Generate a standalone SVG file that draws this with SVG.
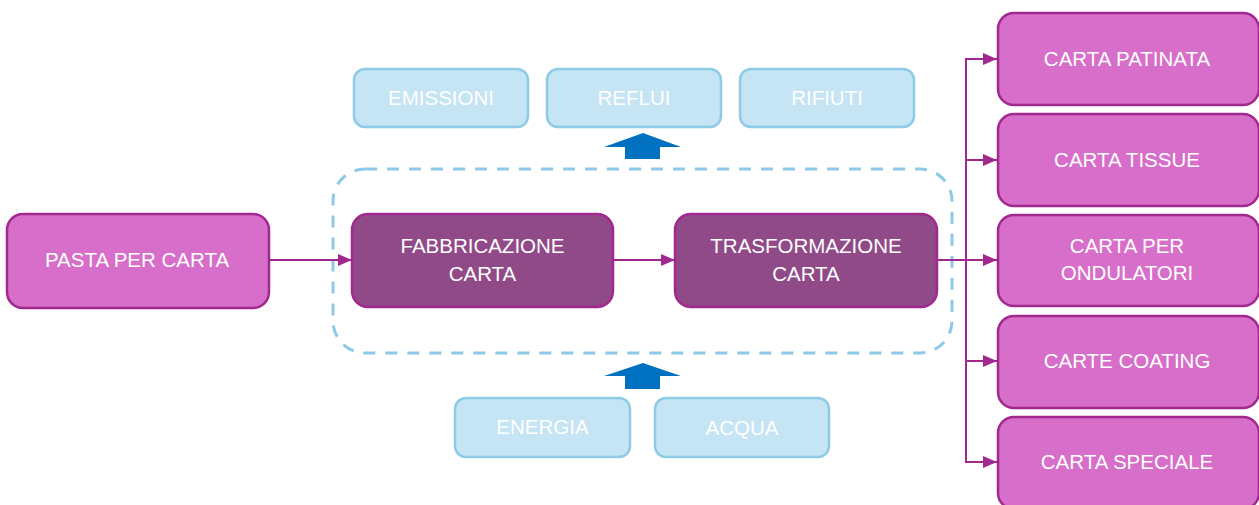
<svg xmlns="http://www.w3.org/2000/svg" width="1259" height="505" viewBox="0 0 1259 505">
<defs>
<style>
.mag{fill:#d76ec9;stroke:#a0288f;stroke-width:2.5}
.dark{fill:#914a88;stroke:#a0288f;stroke-width:2.5}
.lb{fill:#c5e4f4;stroke:#8dcbe6;stroke-width:2.5}
.t{font-family:"Liberation Sans",Arial,sans-serif;font-size:20.5px;fill:#ffffff;text-anchor:middle}
.conn{fill:none;stroke:#a0288f;stroke-width:2}
.dash{fill:none;stroke:#8ecae6;stroke-width:3;stroke-dasharray:12 10}
.blue{fill:#0070c0}
</style>
<marker id="ah2" viewBox="0 0 14 12" refX="14" refY="6" markerWidth="14" markerHeight="12" markerUnits="userSpaceOnUse" orient="auto">
<path d="M0,0 L14,6 L0,12 Z" fill="#a0288f"/>
</marker>
</defs>

<g id="boundary">
<rect class="dash" x="333" y="169" width="619" height="184" rx="32" ry="32"/>
</g>

<g id="connectors">
<line class="conn" x1="269" y1="260" x2="352" y2="260" marker-end="url(#ah2)"/>
<line class="conn" x1="613" y1="260" x2="675" y2="260" marker-end="url(#ah2)"/>
<line class="conn" x1="937" y1="260" x2="997" y2="260" marker-end="url(#ah2)"/>
<line class="conn" x1="966" y1="59" x2="966" y2="462"/>
<line class="conn" x1="965" y1="59" x2="997" y2="59" marker-end="url(#ah2)"/>
<line class="conn" x1="965" y1="160" x2="997" y2="160" marker-end="url(#ah2)"/>
<line class="conn" x1="965" y1="361" x2="997" y2="361" marker-end="url(#ah2)"/>
<line class="conn" x1="965" y1="462" x2="997" y2="462" marker-end="url(#ah2)"/>
<path id="arrow-out" class="blue" d="M643,133 L681,147 L660,147 L660,159 L625,159 L625,147 L604,147 Z"/>
<path id="arrow-in" class="blue" d="M643,363 L681,376 L660,376 L660,389 L625,389 L625,376 L604,376 Z"/>
</g>

<g id="pasta">
<rect class="mag" x="7" y="214" width="262" height="94" rx="16"/>
<text class="t" x="137" y="267">PASTA PER CARTA</text>
</g>

<g id="fabbricazione">
<rect class="dark" x="352" y="214" width="261" height="93" rx="16"/>
<text class="t" x="482.5" y="253">FABBRICAZIONE</text>
<text class="t" x="482.5" y="281">CARTA</text>
</g>

<g id="trasformazione">
<rect class="dark" x="675" y="214" width="262" height="93" rx="16"/>
<text class="t" x="806" y="253">TRASFORMAZIONE</text>
<text class="t" x="806" y="281">CARTA</text>
</g>

<g id="emissioni">
<rect class="lb" x="354" y="69" width="174" height="58" rx="11"/>
<text class="t" x="441" y="105">EMISSIONI</text>
</g>
<g id="reflui">
<rect class="lb" x="547" y="69" width="174" height="58" rx="11"/>
<text class="t" x="634" y="105">REFLUI</text>
</g>
<g id="rifiuti">
<rect class="lb" x="740" y="69" width="174" height="58" rx="11"/>
<text class="t" x="827" y="105">RIFIUTI</text>
</g>

<g id="energia">
<rect class="lb" x="455" y="398" width="175" height="59" rx="11"/>
<text class="t" x="542.5" y="434">ENERGIA</text>
</g>
<g id="acqua">
<rect class="lb" x="655" y="398" width="174" height="59" rx="11"/>
<text class="t" x="742" y="435">ACQUA</text>
</g>

<g id="carta-patinata">
<rect class="mag" x="998" y="13" width="261" height="92" rx="16"/>
<text class="t" x="1127" y="66">CARTA PATINATA</text>
</g>
<g id="carta-tissue">
<rect class="mag" x="998" y="114" width="261" height="92" rx="16"/>
<text class="t" x="1127" y="167">CARTA TISSUE</text>
</g>
<g id="carta-ondulatori">
<rect class="mag" x="998" y="215" width="261" height="91" rx="16"/>
<text class="t" x="1127" y="253">CARTA PER</text>
<text class="t" x="1127" y="280">ONDULATORI</text>
</g>
<g id="carte-coating">
<rect class="mag" x="998" y="316" width="261" height="92" rx="16"/>
<text class="t" x="1127" y="368">CARTE COATING</text>
</g>
<g id="carta-speciale">
<rect class="mag" x="998" y="417" width="261" height="92" rx="16"/>
<text class="t" x="1127" y="469">CARTA SPECIALE</text>
</g>
</svg>
